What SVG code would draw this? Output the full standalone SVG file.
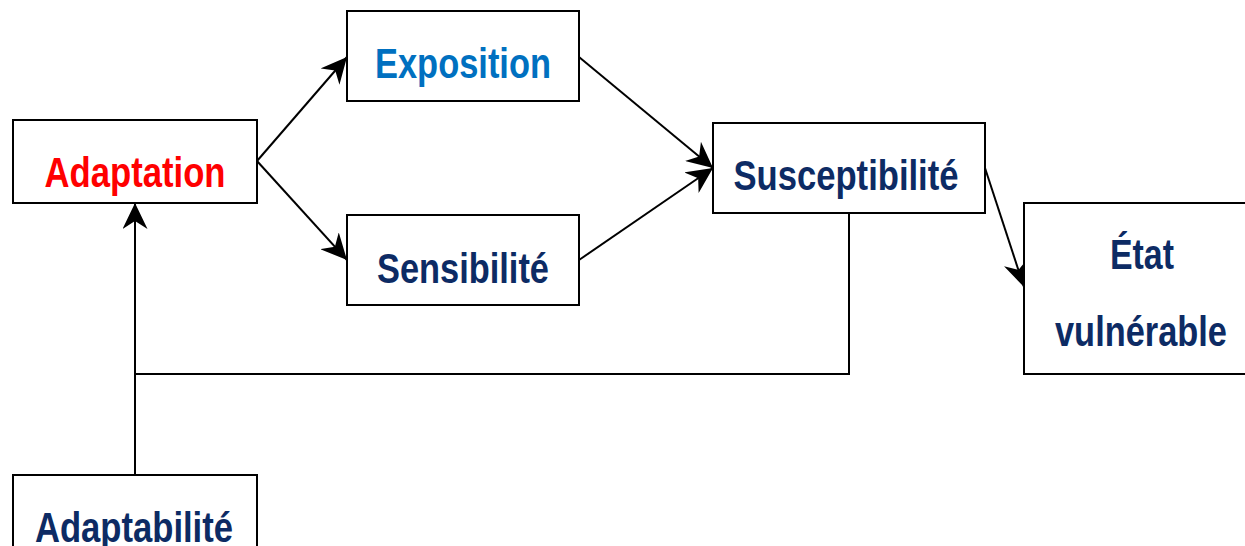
<svg xmlns="http://www.w3.org/2000/svg" width="1245" height="546" viewBox="0 0 1245 546">
  <defs>
    <style>
      .box { fill: #ffffff; stroke: #000000; stroke-width: 2; }
      .lbl { font-family: "Liberation Sans", Arial, sans-serif; font-weight: bold; font-size: 42px; text-anchor: middle; }
      .red { fill: #ff0000; }
      .blue { fill: #0070c0; }
      .navy { fill: #0d2b64; }
      .link { fill: none; stroke: #000000; stroke-width: 2; }
    </style>
    <marker id="head" markerUnits="userSpaceOnUse" viewBox="0 0 26 25" refX="26" refY="12.5" markerWidth="26" markerHeight="25" orient="auto">
      <path d="M26,12.5 L0,0 L8,12.5 L0,25 Z" fill="#000000"/>
    </marker>
  </defs>

  <rect width="1245" height="546" fill="#ffffff"/>

  <g id="connectors">
    <line class="link" x1="257" y1="161" x2="347" y2="57" marker-end="url(#head)"/>
    <line class="link" x1="257" y1="161" x2="347" y2="260" marker-end="url(#head)"/>
    <line class="link" x1="579" y1="57" x2="713" y2="168" marker-end="url(#head)"/>
    <line class="link" x1="579" y1="260" x2="713" y2="168" marker-end="url(#head)"/>
    <line class="link" x1="985" y1="168" x2="1024" y2="287" marker-end="url(#head)"/>
    <polyline class="link" points="849,213 849,374 135,374"/>
    <line class="link" x1="135" y1="475" x2="135" y2="203" marker-end="url(#head)"/>
  </g>

  <g id="adaptation">
    <rect class="box" x="13" y="120" width="244" height="83"/>
    <text class="lbl red" x="135" y="187" textLength="181" lengthAdjust="spacingAndGlyphs">Adaptation</text>
  </g>

  <g id="exposition">
    <rect class="box" x="347" y="11" width="232" height="90"/>
    <text class="lbl blue" x="463" y="78" textLength="176" lengthAdjust="spacingAndGlyphs">Exposition</text>
  </g>

  <g id="sensibilite">
    <rect class="box" x="347" y="215" width="232" height="90"/>
    <text class="lbl navy" x="463" y="283" textLength="172" lengthAdjust="spacingAndGlyphs">Sensibilité</text>
  </g>

  <g id="susceptibilite">
    <rect class="box" x="713" y="123" width="272" height="90"/>
    <text class="lbl navy" x="846" y="190" textLength="225" lengthAdjust="spacingAndGlyphs">Susceptibilité</text>
  </g>

  <g id="etat-vulnerable">
    <rect class="box" x="1024" y="203" width="240" height="171"/>
    <text class="lbl navy" x="1142" y="269" textLength="64" lengthAdjust="spacingAndGlyphs">État</text>
    <text class="lbl navy" x="1141" y="346" textLength="172" lengthAdjust="spacingAndGlyphs">vulnérable</text>
  </g>

  <g id="adaptabilite">
    <rect class="box" x="13" y="475" width="244" height="90"/>
    <text class="lbl navy" x="134" y="542" textLength="198" lengthAdjust="spacingAndGlyphs">Adaptabilité</text>
  </g>
</svg>
